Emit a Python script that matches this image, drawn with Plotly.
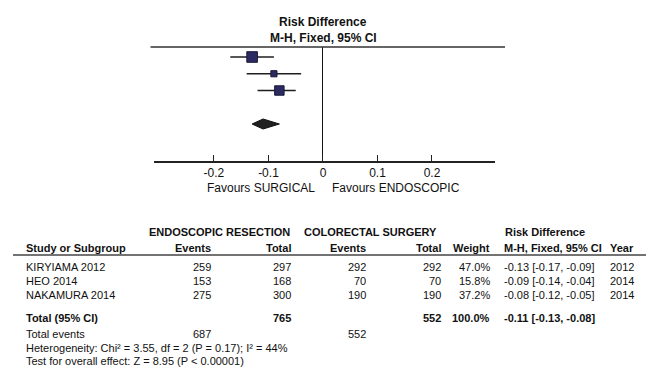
import plotly.graph_objects as go

# ---- data -------------------------------------------------------------
studies = ["KIRYIAMA 2012", "HEO 2014", "NAKAMURA 2014"]
endo_events = [259, 153, 275]
endo_total = [297, 168, 300]
surg_events = [292, 70, 190]
surg_total = [292, 70, 190]
weights = [47.0, 15.8, 37.2]
rd = [-0.13, -0.09, -0.08]
rd_lo = [-0.17, -0.14, -0.12]
rd_hi = [-0.09, -0.04, -0.05]
years = [2012, 2014, 2014]

total_endo = 765
total_surg = 552
total_endo_events = 687
total_surg_events = 552
total_weight = 100.0
pooled_rd = -0.11
pooled_lo = -0.13
pooled_hi = -0.08

study_rows = [1, 2, 3]
pooled_row = 5

tick_vals = [-0.2, -0.1, 0, 0.1, 0.2]
tick_text = ["-0.2", "-0.1", "0", "0.1", "0.2"]

heterogeneity = "Heterogeneity: Chi² = 3.55, df = 2 (P = 0.17); I² = 44%"
overall_test = "Test for overall effect: Z = 8.95 (P < 0.00001)"

# ---- canvas -------------------------------------------------------------
W, H = 646, 387
FONT = "Liberation Sans, Arial, sans-serif"


def px(x):
    return x / W


def py(y):
    return (H - y) / H


fig = go.Figure()

# study estimates with confidence intervals
fig.add_trace(go.Scatter(
    x=rd, y=study_rows, mode="markers",
    marker=dict(symbol="square", size=[1.55 * w ** 0.5 for w in weights],
                color="#2c2a62", opacity=1,
                line=dict(color="#1a1a36", width=1)),
    error_x=dict(type="data", symmetric=False,
                 array=[h - e for h, e in zip(rd_hi, rd)],
                 arrayminus=[e - l for e, l in zip(rd, rd_lo)],
                 color="#1e1e1e", thickness=1.4, width=0),
    hoverinfo="skip", showlegend=False,
))

# pooled estimate diamond
dh = 0.3
fig.add_trace(go.Scatter(
    x=[pooled_lo, pooled_rd, pooled_hi, pooled_rd, pooled_lo],
    y=[pooled_row, pooled_row - dh, pooled_row, pooled_row + dh, pooled_row],
    mode="lines", fill="toself", fillcolor="#202020",
    line=dict(color="#111111", width=1),
    hoverinfo="skip", showlegend=False,
))

fig.update_layout(
    width=W, height=H, margin=dict(l=0, r=0, t=0, b=0),
    paper_bgcolor="white", plot_bgcolor="white",
    font=dict(family=FONT, color="#111111", size=11),
    xaxis=dict(domain=[px(154), px(495)], range=[-0.310, 0.3156],
               showgrid=False, zeroline=True, zerolinecolor="#111111",
               zerolinewidth=1, showline=True, linecolor="#222222",
               linewidth=1.5, ticks="inside", ticklen=6, tickcolor="#222222",
               tickwidth=1.2, tickvals=tick_vals, ticktext=tick_text,
               tickfont=dict(size=12, color="#111111")),
    yaxis=dict(domain=[py(161), py(47)], range=[7.209, 0.403],
               showgrid=False, zeroline=False, showticklabels=False,
               showline=False, ticks=""),
)

# rule above the plotted rows
fig.add_shape(type="line", xref="paper", yref="paper",
              x0=px(150.5), x1=px(505), y0=py(47), y1=py(47),
              line=dict(color="#333333", width=1.5))
# rule under the table header
fig.add_shape(type="line", xref="paper", yref="paper",
              x0=px(13), x1=px(646), y0=py(255), y1=py(255),
              line=dict(color="#444444", width=1.5))


def txt(x, y, s, anchor="left", bold=False, size=11):
    if bold:
        s = "<b>" + s + "</b>"
    fig.add_annotation(x=px(x), y=py(y), xref="paper", yref="paper",
                       text=s, showarrow=False, xanchor=anchor,
                       yanchor="middle", font=dict(size=size))


# forest plot titles and direction labels
txt(323, 22, "Risk Difference", "center", True, 12)
txt(323, 38, "M-H, Fixed, 95% CI", "center", True, 12)
txt(317, 188, "Favours SURGICAL", "right", size=12)
txt(330, 188, "Favours ENDOSCOPIC", "left", size=12)

# column positions (right edges unless noted)
X_STUDY = 24
X_EEV, X_ETOT = 213, 293
X_SEV, X_STOT = 368, 443
X_WT = 492
X_RD = 502
X_YEAR = 636

# header
txt(147, 232, "ENDOSCOPIC RESECTION", "left", True)
txt(302, 232, "COLORECTAL SURGERY", "left", True)
txt(503, 232, "Risk Difference", "left", True)
txt(X_STUDY, 248, "Study or Subgroup", "left", True)
txt(X_EEV, 248, "Events", "right", True)
txt(X_ETOT, 248, "Total", "right", True)
txt(X_SEV, 248, "Events", "right", True)
txt(X_STOT, 248, "Total", "right", True)
txt(X_WT, 248, "Weight", "right", True)
txt(X_RD, 248, "M-H, Fixed, 95% CI", "left", True)
txt(X_YEAR, 248, "Year", "right", True)

# study rows
row_y = [267, 281, 295]
for i, y in enumerate(row_y):
    txt(X_STUDY, y, studies[i])
    txt(X_EEV, y, str(endo_events[i]), "right")
    txt(X_ETOT, y, str(endo_total[i]), "right")
    txt(X_SEV, y, str(surg_events[i]), "right")
    txt(X_STOT, y, str(surg_total[i]), "right")
    txt(X_WT, y, f"{weights[i]:.1f}%", "right")
    txt(X_RD, y, f"{rd[i]:.2f} [{rd_lo[i]:.2f}, {rd_hi[i]:.2f}]", "left")
    txt(X_YEAR, y, str(years[i]), "right")

# totals
txt(X_STUDY, 318, "Total (95% CI)", "left", True)
txt(X_ETOT, 318, str(total_endo), "right", True)
txt(X_STOT, 318, str(total_surg), "right", True)
txt(X_WT, 318, f"{total_weight:.1f}%", "right", True)
txt(X_RD, 318, f"{pooled_rd:.2f} [{pooled_lo:.2f}, {pooled_hi:.2f}]", "left", True)
txt(X_STUDY, 334, "Total events")
txt(X_EEV, 334, str(total_endo_events), "right")
txt(X_SEV, 334, str(total_surg_events), "right")
txt(X_STUDY, 348, heterogeneity)
txt(X_STUDY, 361, overall_test)

fig.write_html("out.html")
